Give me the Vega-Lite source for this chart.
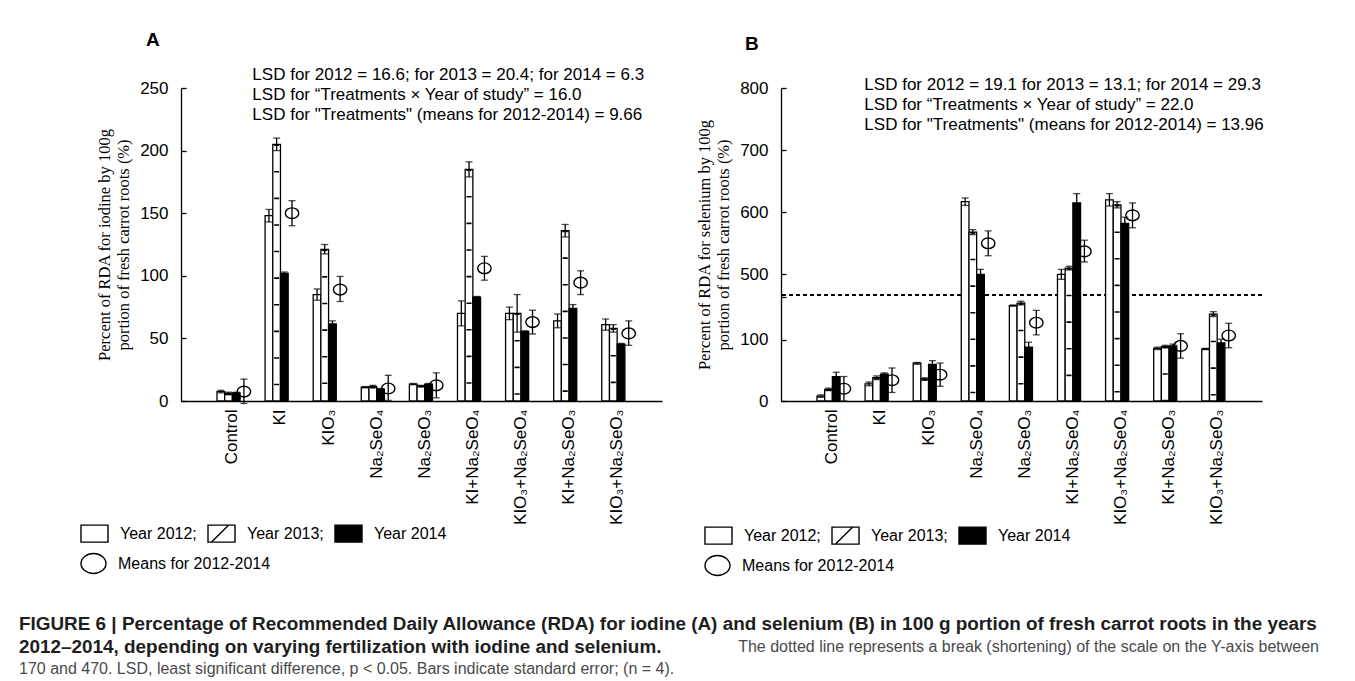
{
  "$schema": "https://vega.github.io/schema/vega-lite/v6.json",
  "background": "white",
  "padding": {"left": 18, "top": 31, "right": 5, "bottom": 5},
  "datasets": {
    "iodine": [
      {"trt": "Control", "series": "2012", "value": 7.5, "lo": 6.5, "hi": 8.5},
      {"trt": "Control", "series": "2013", "value": 6, "lo": 5, "hi": 7},
      {"trt": "Control", "series": "2014", "value": 6.5, "lo": 6, "hi": 7},
      {"trt": "Control", "series": "mean", "value": 7.5, "lo": -2, "hi": 17.5},
      {"trt": "KI", "series": "2012", "value": 148, "lo": 143, "hi": 153},
      {"trt": "KI", "series": "2013", "value": 205, "lo": 200, "hi": 210},
      {"trt": "KI", "series": "2014", "value": 102, "lo": 101, "hi": 103},
      {"trt": "KI", "series": "mean", "value": 150, "lo": 140, "hi": 160},
      {"trt": "KIO₃", "series": "2012", "value": 85, "lo": 80.5, "hi": 89.5},
      {"trt": "KIO₃", "series": "2013", "value": 121, "lo": 117.5, "hi": 125},
      {"trt": "KIO₃", "series": "2014", "value": 61.5, "lo": 59.5, "hi": 64},
      {"trt": "KIO₃", "series": "mean", "value": 89, "lo": 79.5, "hi": 99.5},
      {"trt": "Na₂SeO₄", "series": "2012", "value": 11, "lo": 10.5, "hi": 11.5},
      {"trt": "Na₂SeO₄", "series": "2013", "value": 11.5, "lo": 10.5, "hi": 12.5},
      {"trt": "Na₂SeO₄", "series": "2014", "value": 9.5, "lo": 9, "hi": 10},
      {"trt": "Na₂SeO₄", "series": "mean", "value": 10, "lo": 0.5, "hi": 20.5},
      {"trt": "Na₂SeO₃", "series": "2012", "value": 13.5, "lo": 13, "hi": 14},
      {"trt": "Na₂SeO₃", "series": "2013", "value": 12, "lo": 11.5, "hi": 12.5},
      {"trt": "Na₂SeO₃", "series": "2014", "value": 13.5, "lo": 13, "hi": 14},
      {"trt": "Na₂SeO₃", "series": "mean", "value": 12.5, "lo": 2.5, "hi": 22.5},
      {"trt": "KI+Na₂SeO₄", "series": "2012", "value": 70, "lo": 60, "hi": 80},
      {"trt": "KI+Na₂SeO₄", "series": "2013", "value": 185, "lo": 179, "hi": 191},
      {"trt": "KI+Na₂SeO₄", "series": "2014", "value": 83, "lo": 82.5, "hi": 83.5},
      {"trt": "KI+Na₂SeO₄", "series": "mean", "value": 106, "lo": 96.5, "hi": 115.5},
      {"trt": "KIO₃+Na₂SeO₄", "series": "2012", "value": 70, "lo": 65, "hi": 75},
      {"trt": "KIO₃+Na₂SeO₄", "series": "2013", "value": 70, "lo": 55, "hi": 85},
      {"trt": "KIO₃+Na₂SeO₄", "series": "2014", "value": 55.5, "lo": 55, "hi": 56},
      {"trt": "KIO₃+Na₂SeO₄", "series": "mean", "value": 63, "lo": 53.5, "hi": 72.5},
      {"trt": "KI+Na₂SeO₃", "series": "2012", "value": 64, "lo": 58.5, "hi": 69.5},
      {"trt": "KI+Na₂SeO₃", "series": "2013", "value": 136, "lo": 131, "hi": 141},
      {"trt": "KI+Na₂SeO₃", "series": "2014", "value": 74, "lo": 71, "hi": 77},
      {"trt": "KI+Na₂SeO₃", "series": "mean", "value": 94.5, "lo": 85, "hi": 104},
      {"trt": "KIO₃+Na₂SeO₃", "series": "2012", "value": 61, "lo": 56.5, "hi": 65.5},
      {"trt": "KIO₃+Na₂SeO₃", "series": "2013", "value": 58, "lo": 55, "hi": 61},
      {"trt": "KIO₃+Na₂SeO₃", "series": "2014", "value": 45.5, "lo": 45, "hi": 46},
      {"trt": "KIO₃+Na₂SeO₃", "series": "mean", "value": 54, "lo": 44.5, "hi": 64}
    ],
    "selenium": [
      {"trt": "Control", "series": "2012", "value": 8, "lo": 6, "hi": 10},
      {"trt": "Control", "series": "2013", "value": 19, "lo": 17, "hi": 21},
      {"trt": "Control", "series": "2014", "value": 40, "lo": 33, "hi": 47},
      {"trt": "Control", "series": "mean", "value": 20, "lo": 0, "hi": 40},
      {"trt": "KI", "series": "2012", "value": 28, "lo": 25, "hi": 31},
      {"trt": "KI", "series": "2013", "value": 38, "lo": 35, "hi": 41},
      {"trt": "KI", "series": "2014", "value": 44, "lo": 42, "hi": 46},
      {"trt": "KI", "series": "mean", "value": 34, "lo": 14, "hi": 54},
      {"trt": "KIO₃", "series": "2012", "value": 62, "lo": 60, "hi": 63},
      {"trt": "KIO₃", "series": "2013", "value": 36, "lo": 34, "hi": 38},
      {"trt": "KIO₃", "series": "2014", "value": 60, "lo": 54, "hi": 66},
      {"trt": "KIO₃", "series": "mean", "value": 43, "lo": 24, "hi": 62},
      {"trt": "Na₂SeO₄", "series": "2012", "value": 617, "lo": 611, "hi": 623},
      {"trt": "Na₂SeO₄", "series": "2013", "value": 568, "lo": 564, "hi": 572},
      {"trt": "Na₂SeO₄", "series": "2014", "value": 500, "lo": 492, "hi": 508},
      {"trt": "Na₂SeO₄", "series": "mean", "value": 550, "lo": 530, "hi": 570},
      {"trt": "Na₂SeO₃", "series": "2012", "value": 156, "lo": 155, "hi": 157},
      {"trt": "Na₂SeO₃", "series": "2013", "value": 160, "lo": 157, "hi": 163},
      {"trt": "Na₂SeO₃", "series": "2014", "value": 88, "lo": 80, "hi": 96},
      {"trt": "Na₂SeO₃", "series": "mean", "value": 128, "lo": 108, "hi": 148},
      {"trt": "KI+Na₂SeO₄", "series": "2012", "value": 500, "lo": 492, "hi": 508},
      {"trt": "KI+Na₂SeO₄", "series": "2013", "value": 510, "lo": 507, "hi": 513},
      {"trt": "KI+Na₂SeO₄", "series": "2014", "value": 615, "lo": 600, "hi": 630},
      {"trt": "KI+Na₂SeO₄", "series": "mean", "value": 537, "lo": 520, "hi": 555},
      {"trt": "KIO₃+Na₂SeO₄", "series": "2012", "value": 620, "lo": 610, "hi": 630},
      {"trt": "KIO₃+Na₂SeO₄", "series": "2013", "value": 612, "lo": 607, "hi": 617},
      {"trt": "KIO₃+Na₂SeO₄", "series": "2014", "value": 582, "lo": 572, "hi": 592},
      {"trt": "KIO₃+Na₂SeO₄", "series": "mean", "value": 595, "lo": 575, "hi": 615},
      {"trt": "KI+Na₂SeO₃", "series": "2012", "value": 86, "lo": 84, "hi": 88},
      {"trt": "KI+Na₂SeO₃", "series": "2013", "value": 89, "lo": 87, "hi": 91},
      {"trt": "KI+Na₂SeO₃", "series": "2014", "value": 90, "lo": 87, "hi": 93},
      {"trt": "KI+Na₂SeO₃", "series": "mean", "value": 90, "lo": 70, "hi": 110},
      {"trt": "KIO₃+Na₂SeO₃", "series": "2012", "value": 85, "lo": 84, "hi": 86},
      {"trt": "KIO₃+Na₂SeO₃", "series": "2013", "value": 142, "lo": 138, "hi": 146},
      {"trt": "KIO₃+Na₂SeO₃", "series": "2014", "value": 95, "lo": 89, "hi": 101},
      {"trt": "KIO₃+Na₂SeO₃", "series": "mean", "value": 107, "lo": 87, "hi": 127}
    ],
    "caption": [
      {"line": 1, "part": "heading", "text": "FIGURE 6 | Percentage of Recommended Daily Allowance (RDA) for iodine (A) and selenium (B) in 100 g portion of fresh carrot roots in the years"},
      {"line": 2, "part": "heading", "text": "2012–2014, depending on varying fertilization with iodine and selenium."},
      {"line": 2, "part": "note", "text": "The dotted line represents a break (shortening) of the scale on the Y-axis between"},
      {"line": 3, "part": "note", "text": "170 and 470. LSD, least significant difference, p < 0.05. Bars indicate standard error; (n = 4)."}
    ]
  },
  "vconcat": [
    {
      "hconcat": [
        {
          "width": 481,
          "height": 313,
          "data": {"name": "iodine"},
          "title": {"text": "A", "anchor": "start", "frame": "group", "dx": -35, "offset": 16, "fontSize": 19, "fontWeight": "bold"},
          "layer": [
            {
              "transform": [{"filter": "datum.series != 'mean'"}],
              "mark": {"type": "bar", "stroke": "black", "strokeWidth": 1.3},
              "encoding": {
                "x": {"field": "trt", "type": "nominal", "sort": null, "scale": {"paddingInner": 0.36, "paddingOuter": 0.68, "align": 0.55}, "axis": {"title": null}},
                "xOffset": {"field": "series", "type": "nominal", "scale": {"domain": ["2012", "2013", "2014", "mean"], "paddingInner": 0, "paddingOuter": 0}},
                "y": {"field": "value", "type": "quantitative", "scale": {"domain": [0, 250], "nice": false, "zero": false},
                  "axis": {"values": [0, 25, 50, 75, 100, 125, 150, 175, 200, 225, 250], "labelOverlap": false, "title": ["Percent of RDA for iodine by 100g", "portion of fresh carrot roots (%)"]}},
                "fill": {"field": "series", "type": "nominal", "scale": {"domain": ["2012", "2013", "2014"], "range": ["white", "white", "black"]},
                  "legend": {"title": null, "orient": "none", "legendX": -101, "legendY": 431, "direction": "horizontal",
                    "symbolType": "M-1,-0.63L1,-0.63L1,0.63L-1,0.63Z", "symbolSize": 729, "symbolStrokeColor": "black", "symbolStrokeWidth": 1.4,
                    "labelFontSize": 16, "labelColor": "black", "labelOffset": 11, "columnPadding": 8,
                    "labelExpr": "datum.label == '2014' ? 'Year 2014' : 'Year ' + datum.label + ';'",
                    "encode": {"symbols": {"update": {"shape": {"signal": "datum.value == '2013' ? 'M-1,-0.63L1,-0.63L1,0.63L-1,0.63ZM-0.72,0.6L0.5,-0.6' : 'M-1,-0.63L1,-0.63L1,0.63L-1,0.63Z'"}}}}}}
              }
            },
            {
              "transform": [{"filter": "datum.series == '2013'"}],
              "mark": {"type": "rule", "color": "black", "strokeWidth": 5, "strokeDash": [1.6, 25]},
              "encoding": {
                "x": {"field": "trt", "type": "nominal", "sort": null},
                "xOffset": {"field": "series", "type": "nominal"},
                "y": {"field": "value", "type": "quantitative"},
                "y2": {"datum": 0}
              }
            },
            {
              "mark": {"type": "rule", "color": "black", "strokeWidth": 1.3},
              "encoding": {
                "x": {"field": "trt", "type": "nominal", "sort": null},
                "xOffset": {"field": "series", "type": "nominal"},
                "y": {"field": "lo", "type": "quantitative"},
                "y2": {"field": "hi"}
              }
            },
            {
              "mark": {"type": "tick", "color": "black", "thickness": 1.3, "size": 7},
              "encoding": {
                "x": {"field": "trt", "type": "nominal", "sort": null},
                "xOffset": {"field": "series", "type": "nominal"},
                "y": {"field": "lo", "type": "quantitative"}
              }
            },
            {
              "mark": {"type": "tick", "color": "black", "thickness": 1.3, "size": 7},
              "encoding": {
                "x": {"field": "trt", "type": "nominal", "sort": null},
                "xOffset": {"field": "series", "type": "nominal"},
                "y": {"field": "hi", "type": "quantitative"}
              }
            },
            {
              "transform": [{"filter": "datum.series == 'mean'"}],
              "mark": {"type": "point", "filled": false, "stroke": "black", "strokeWidth": 1.4, "size": 180, "opacity": 1},
              "encoding": {
                "x": {"field": "trt", "type": "nominal", "sort": null},
                "xOffset": {"field": "series", "type": "nominal"},
                "y": {"field": "value", "type": "quantitative"},
                "shape": {"field": "series", "type": "nominal", "scale": {"domain": ["mean"], "range": ["M-1,0A1,0.8,0,1,1,1,0A1,0.8,0,1,1,-1,0Z"]},
                  "legend": {"title": null, "orient": "none", "legendX": -101, "legendY": 462, "symbolSize": 625, "symbolStrokeColor": "black", "symbolStrokeWidth": 1.4,
                    "labelFontSize": 16, "labelColor": "black", "labelOffset": 11, "labelExpr": "'Means for 2012-2014'"}}
              }
            },
            {
              "data": {"values": [{"lines": ["LSD for 2012 = 16.6; for 2013 = 20.4; for 2014 = 6.3", "LSD for “Treatments × Year of study” = 16.0", "LSD for \"Treatments\" (means for 2012-2014) = 9.66"]}]},
              "mark": {"type": "text", "align": "left", "baseline": "middle", "fontSize": 17, "lineHeight": 20, "dx": 20, "color": "black"},
              "encoding": {
                "x": {"datum": "Control"},
                "y": {"datum": 260.3},
                "text": {"field": "lines", "type": "nominal"}
              }
            }
          ]
        },
        {
          "width": 481,
          "height": 313,
          "data": {"name": "selenium"},
          "title": {"text": "B", "anchor": "start", "frame": "group", "dx": -36, "offset": 22, "fontSize": 19, "fontWeight": "bold"},
          "layer": [
            {
              "mark": {"type": "rule", "color": "black", "strokeWidth": 1.5, "strokeDash": [4, 3]},
              "encoding": {"y": {"datum": 320, "type": "quantitative"}}
            },
            {
              "transform": [{"filter": "datum.series != 'mean'"}],
              "mark": {"type": "bar", "stroke": "black", "strokeWidth": 1.3},
              "encoding": {
                "x": {"field": "trt", "type": "nominal", "sort": null, "scale": {"paddingInner": 0.36, "paddingOuter": 0.68, "align": 0.55}, "axis": {"title": null}},
                "xOffset": {"field": "series", "type": "nominal", "scale": {"domain": ["2012", "2013", "2014", "mean"], "paddingInner": 0, "paddingOuter": 0}},
                "y": {"field": "value", "type": "quantitative", "scale": {"domain": [0, 170, 470, 800], "range": [313, 209, 205, 0], "nice": false, "zero": false},
                  "axis": {"values": [0, 50, 100, 150, 170, 470, 500, 550, 600, 650, 700, 750, 800], "labelOverlap": false, "labelExpr": "datum.value == 170 || datum.value == 470 ? '' : datum.label", "title": ["Percent of RDA for selenium by 100g", "portion of fresh carrot roots (%)"]}},
                "fill": {"field": "series", "type": "nominal", "scale": {"domain": ["2012", "2013", "2014"], "range": ["white", "white", "black"]},
                  "legend": {"title": null, "orient": "none", "legendX": -77, "legendY": 433, "direction": "horizontal",
                    "symbolType": "M-1,-0.63L1,-0.63L1,0.63L-1,0.63Z", "symbolSize": 729, "symbolStrokeColor": "black", "symbolStrokeWidth": 1.4,
                    "labelFontSize": 16, "labelColor": "black", "labelOffset": 11, "columnPadding": 8,
                    "labelExpr": "datum.label == '2014' ? 'Year 2014' : 'Year ' + datum.label + ';'",
                    "encode": {"symbols": {"update": {"shape": {"signal": "datum.value == '2013' ? 'M-1,-0.63L1,-0.63L1,0.63L-1,0.63ZM-0.72,0.6L0.5,-0.6' : 'M-1,-0.63L1,-0.63L1,0.63L-1,0.63Z'"}}}}}}
              }
            },
            {
              "transform": [{"filter": "datum.series == '2013'"}],
              "mark": {"type": "rule", "color": "black", "strokeWidth": 5, "strokeDash": [1.6, 25]},
              "encoding": {
                "x": {"field": "trt", "type": "nominal", "sort": null},
                "xOffset": {"field": "series", "type": "nominal"},
                "y": {"field": "value", "type": "quantitative"},
                "y2": {"datum": 0}
              }
            },
            {
              "mark": {"type": "rule", "color": "black", "strokeWidth": 1.3},
              "encoding": {
                "x": {"field": "trt", "type": "nominal", "sort": null},
                "xOffset": {"field": "series", "type": "nominal"},
                "y": {"field": "lo", "type": "quantitative"},
                "y2": {"field": "hi"}
              }
            },
            {
              "mark": {"type": "tick", "color": "black", "thickness": 1.3, "size": 7},
              "encoding": {
                "x": {"field": "trt", "type": "nominal", "sort": null},
                "xOffset": {"field": "series", "type": "nominal"},
                "y": {"field": "lo", "type": "quantitative"}
              }
            },
            {
              "mark": {"type": "tick", "color": "black", "thickness": 1.3, "size": 7},
              "encoding": {
                "x": {"field": "trt", "type": "nominal", "sort": null},
                "xOffset": {"field": "series", "type": "nominal"},
                "y": {"field": "hi", "type": "quantitative"}
              }
            },
            {
              "transform": [{"filter": "datum.series == 'mean'"}],
              "mark": {"type": "point", "filled": false, "stroke": "black", "strokeWidth": 1.4, "size": 180, "opacity": 1},
              "encoding": {
                "x": {"field": "trt", "type": "nominal", "sort": null},
                "xOffset": {"field": "series", "type": "nominal"},
                "y": {"field": "value", "type": "quantitative"},
                "shape": {"field": "series", "type": "nominal", "scale": {"domain": ["mean"], "range": ["M-1,0A1,0.8,0,1,1,1,0A1,0.8,0,1,1,-1,0Z"]},
                  "legend": {"title": null, "orient": "none", "legendX": -77, "legendY": 464, "symbolSize": 625, "symbolStrokeColor": "black", "symbolStrokeWidth": 1.4,
                    "labelFontSize": 16, "labelColor": "black", "labelOffset": 11, "labelExpr": "'Means for 2012-2014'"}}
              }
            },
            {
              "data": {"values": [{"lines": ["LSD for 2012 = 19.1 for 2013 = 13.1; for 2014 = 29.3", "LSD for “Treatments × Year of study” = 22.0", "LSD for \"Treatments\" (means for 2012-2014) = 13.96"]}]},
              "mark": {"type": "text", "align": "left", "baseline": "middle", "fontSize": 17, "lineHeight": 20, "dx": 32, "color": "black"},
              "encoding": {
                "x": {"datum": "Control"},
                "y": {"datum": 805},
                "text": {"field": "lines", "type": "nominal"}
              }
            }
          ]
        }
      ],
      "spacing": 34,
      "resolve": {
        "scale": {"x": "independent", "y": "independent", "xOffset": "independent", "fill": "independent", "shape": "independent"},
        "legend": {"fill": "independent", "shape": "independent"}
      }
    },
    {
      "width": 1138,
      "height": 45,
      "data": {"name": "caption"},
      "encoding": {
        "y": {"field": "line", "type": "quantitative", "scale": {"domain": [1, 3], "reverse": true, "nice": false}, "axis": null},
        "text": {"field": "text", "type": "nominal"}
      },
      "layer": [
        {
          "transform": [{"filter": "datum.part == 'heading'"}],
          "mark": {"type": "text", "align": "left", "baseline": "middle", "font": "Liberation Sans", "fontSize": 18.9, "fontWeight": "bold", "color": "#1e1e1e"},
          "encoding": {"x": {"datum": 0, "type": "quantitative", "scale": {"domain": [0.12462, 1], "nice": false, "zero": false}, "axis": null}}
        },
        {
          "transform": [{"filter": "datum.part == 'note' && datum.line == 2"}],
          "mark": {"type": "text", "align": "right", "baseline": "middle", "font": "Liberation Sans", "fontSize": 16, "color": "#4a4a4a"},
          "encoding": {"x": {"datum": 1, "type": "quantitative"}}
        },
        {
          "transform": [{"filter": "datum.part == 'note' && datum.line == 3"}],
          "mark": {"type": "text", "align": "left", "baseline": "middle", "font": "Liberation Sans", "fontSize": 16, "color": "#4a4a4a"},
          "encoding": {"x": {"datum": 0, "type": "quantitative"}}
        }
      ]
    }
  ],
  "spacing": 36,
  "config": {
    "font": "Liberation Sans",
    "view": {"stroke": null},
    "title": {"color": "black", "font": "Liberation Sans"},
    "axis": {
      "domainColor": "black", "domainWidth": 1.3, "tickColor": "black", "tickWidth": 1.3,
      "labelColor": "black", "labelFont": "Liberation Sans", "labelFontSize": 17,
      "titleFont": "Liberation Serif", "titleFontSize": 16.5, "titleFontWeight": "normal", "titleColor": "black",
      "grid": false
    },
    "axisX": {"ticks": false, "labelAngle": -90, "labelPadding": 8},
    "axisY": {"tickSize": -5, "labelPadding": 18, "titlePadding": 8, "titleLineHeight": 19},
    "legend": {"labelFont": "Liberation Sans", "padding": 0}
  }
}
